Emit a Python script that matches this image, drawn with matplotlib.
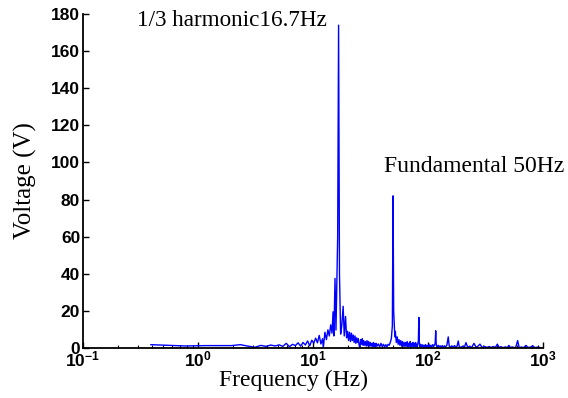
import matplotlib
matplotlib.use("Agg")
import matplotlib.pyplot as plt
from matplotlib.ticker import LogLocator, FixedLocator, NullFormatter

# spectrum (frequency in Hz, amplitude in V)
freq_hz = [
    0.39, 0.78, 1.17, 1.56, 1.95, 2.34, 2.73, 3.12, 3.52, 3.91,
    4.30, 4.69, 5.08, 5.47, 5.86, 6.25, 6.64, 7.03, 7.42, 7.81,
    8.20, 8.59, 8.98, 9.38, 9.77, 10.16, 10.55, 10.94, 11.33, 11.72,
    12.11, 12.30, 12.70, 13.09, 13.48, 13.87, 14.26, 14.65, 14.95, 15.20,
    15.55, 15.85, 16.40, 16.70, 17.00, 17.40, 17.80, 18.30, 18.70, 19.20,
    19.60, 20.00, 20.40, 20.80, 21.20, 21.60, 22.00, 22.40, 22.80, 23.20,
    23.60, 24.00, 24.40, 24.80, 25.20, 25.60, 26.00, 26.40, 26.80, 27.20,
    27.60, 28.00, 28.50, 29.00, 29.50, 30.00, 30.50, 31.00, 31.50, 32.00,
    32.50, 33.00, 33.50, 34.00, 34.50, 35.00, 35.50, 36.00, 37.00, 38.00,
    39.00, 40.00, 41.00, 42.00, 43.00, 44.00, 45.00, 46.00, 47.00, 48.00,
    49.00, 49.70, 50.30, 50.80, 51.50, 52.00, 53.00, 54.00, 55.00, 56.00,
    57.00, 58.00, 59.00, 60.00, 61.00, 62.00, 63.00, 64.00, 65.00, 66.00,
    67.00, 68.00, 69.00, 70.00, 71.00, 72.00, 73.00, 74.00, 75.00, 76.00,
    77.00, 78.00, 79.00, 80.00, 81.00, 82.50, 83.30, 84.00, 85.00, 86.00,
    87.50, 89.00, 90.50, 92.00, 93.50, 95.00, 96.50, 98.00, 100.0, 102.0,
    104.0, 106.0, 108.0, 110.0, 112.0, 115.5, 116.7, 118.0, 120.0, 122.5,
    125.0, 127.5, 130.0, 133.0, 136.0, 139.0, 142.0, 146.0, 150.0, 153.0,
    157.0, 161.0, 165.0, 170.0, 175.0, 179.0, 183.3, 187.0, 193.0, 200.0,
    207.0, 214.0, 221.0, 230.0, 240.0, 251.0, 262.0, 272.0, 283.0, 295.0,
    310.0, 325.0, 340.0, 355.0, 370.0, 385.0, 401.0, 415.0, 430.0, 450.0,
    470.0, 490.0, 505.0, 520.0, 540.0, 560.0, 580.0, 602.0, 620.0, 650.0,
    680.0, 711.0, 740.0, 780.0, 813.0, 850.0, 900.0, 940.0,
]
volt = [
    1.8, 1.1, 1.3, 1.3, 1.3, 1.8, 1.0, 0.4, 1.4, 0.9,
    1.6, 1.1, 1.7, 0.9, 2.5, 0.7, 2.0, 1.3, 2.8, 1.0,
    3.0, 1.6, 3.8, 1.2, 4.2, 2.6, 5.3, 2.8, 6.8, 2.2,
    5.0, 0.0, 8.5, 4.5, 9.8, 6.5, 12.5, 8.0, 19.5, 6.5,
    37.5, 9.7, 60.0, 174.0, 40.0, 7.5, 12.0, 22.5, 6.5, 17.0,
    5.5, 9.0, 4.0, 8.5, 3.5, 8.0, 4.0, 7.0, 3.0, 6.5,
    2.5, 5.5, 3.0, 5.0, 1.5, 0.0, 4.5, 2.0, 5.0, 1.5,
    4.0, 1.5, 3.5, 1.0, 4.0, 1.2, 3.5, 1.0, 3.0, 1.0,
    2.5, 0.8, 3.0, 0.8, 2.5, 0.6, 2.5, 1.0, 2.2, 0.6,
    2.5, 0.8, 2.0, 0.6, 1.8, 0.7, 2.0, 1.5, 3.0, 5.0,
    12.0, 82.0, 20.0, 14.0, 6.0, 9.0, 3.0, 6.0, 2.0, 4.5,
    1.5, 4.0, 1.0, 3.5, 1.0, 3.0, 0.8, 3.0, 1.0, 3.5,
    0.8, 2.5, 1.0, 3.5, 0.8, 2.5, 1.0, 3.0, 0.6, 2.5,
    1.0, 3.0, 0.8, 2.0, 1.0, 4.0, 16.5, 3.0, 0.6, 2.0,
    0.5, 1.8, 0.4, 1.5, 0.6, 1.8, 0.4, 1.5, 0.5, 2.0,
    0.4, 1.5, 0.5, 1.8, 0.8, 2.5, 9.3, 1.5, 0.4, 1.5,
    0.5, 1.2, 0.4, 1.3, 0.4, 1.2, 0.5, 1.5, 6.0, 1.0,
    0.4, 1.2, 0.4, 1.3, 0.4, 1.0, 3.8, 0.8, 0.3, 1.0,
    0.3, 2.9, 0.4, 1.0, 0.3, 2.5, 0.4, 1.0, 2.1, 0.3,
    0.9, 0.3, 0.8, 0.3, 0.8, 0.3, 2.1, 0.3, 0.7, 0.2,
    0.6, 0.2, 1.4, 0.2, 0.6, 0.2, 0.5, 4.0, 0.3, 0.5,
    0.2, 1.4, 0.3, 0.5, 1.2, 0.2, 0.5, 0.3,
]
y_ticks = [0, 20, 40, 60, 80, 100, 120, 140, 160, 180]
x_ticks = [0.1, 1, 10, 100, 1000]
x_tick_labels = [r"$\mathbf{10^{-1}}$", r"$\mathbf{10^{0}}$", r"$\mathbf{10^{1}}$",
                 r"$\mathbf{10^{2}}$", r"$\mathbf{10^{3}}$"]

plt.rcParams["mathtext.fontset"] = "custom"
plt.rcParams["mathtext.bf"] = "Liberation Sans:bold"
plt.rcParams["mathtext.rm"] = "Liberation Sans"

fig = plt.figure(figsize=(5.68, 3.98), dpi=100)
ax = fig.add_axes([0.146, 0.1256, 0.81, 0.8392])

ax.plot(freq_hz, volt, color="#0000ff", lw=1.0)

ax.set_xscale("log")
ax.set_xlim(0.1, 1000)
ax.set_ylim(0, 180)

ax.xaxis.set_major_locator(FixedLocator(x_ticks))
ax.set_xticklabels(x_tick_labels)
ax.xaxis.set_minor_locator(LogLocator(base=10, subs=range(2, 10), numticks=20))
ax.xaxis.set_minor_formatter(NullFormatter())
ax.set_yticks(y_ticks)

for lab in ax.get_yticklabels():
    lab.set_fontfamily("Liberation Sans")
    lab.set_fontweight("bold")
ax.tick_params(axis="both", which="major", direction="in", length=4, width=1,
               labelsize=12.5, pad=2)
ax.tick_params(axis="x", which="minor", direction="in", length=2.5, width=0.8)

for side in ["top", "right"]:
    ax.spines[side].set_visible(False)
for side in ["left", "bottom"]:
    ax.spines[side].set_linewidth(1.3)

serif = "Liberation Serif"
ax.set_xlabel("Frequency (Hz)", fontfamily=serif, fontsize=17)
ax.set_ylabel("Voltage (V)", fontfamily=serif, fontsize=18)
ax.xaxis.set_label_coords(0.457, -0.065)
ax.yaxis.set_label_coords(-0.10, 0.5)

ax.text(0.295, 176.5, "1/3 harmonic16.7Hz", fontfamily=serif, fontsize=16.7,
        ha="left", va="center")
ax.text(41.4, 98, "Fundamental 50Hz", fontfamily=serif, fontsize=17,
        ha="left", va="center")

fig.savefig("out.png", dpi=100)
